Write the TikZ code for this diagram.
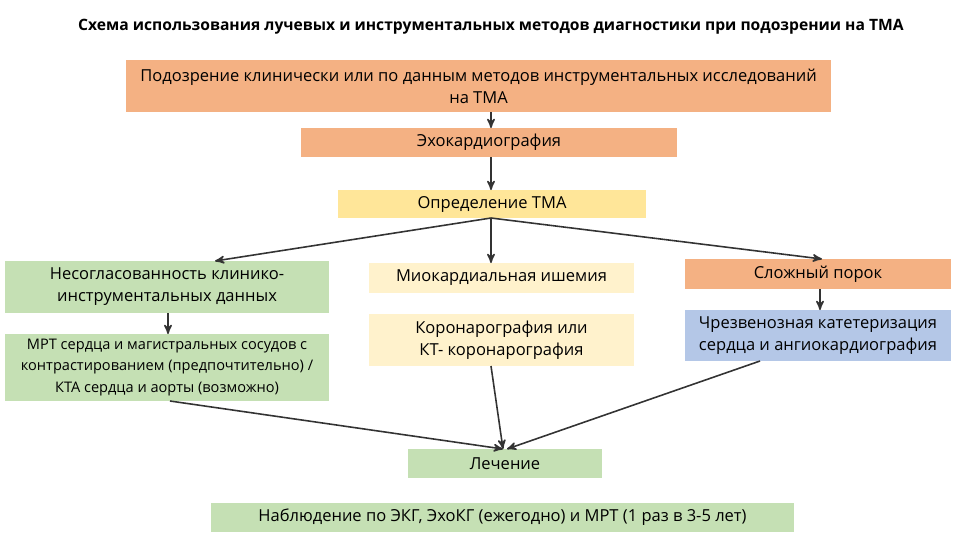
\documentclass[tikz,border=0pt]{standalone}
\usepackage{fontspec}
\setmainfont{Open Sans}
\usetikzlibrary{arrows}
\definecolor{orng}{HTML}{F4B183}
\definecolor{yell}{HTML}{FFE699}
\definecolor{lyel}{HTML}{FFF2CC}
\definecolor{grn}{HTML}{C5E0B4}
\definecolor{blu}{HTML}{B4C7E7}
\tikzset{box/.style={inner sep=0pt,align=center,font=\fontsize{9.4}{12.5}\selectfont},
  arr/.style={->,>=stealth',line width=0.9pt,draw=black!80}}

\begin{document}
\begin{tikzpicture}[x=0.02cm,y=-0.02cm]
              \useasboundingbox (0,0) rectangle (974,539);
              \node (title) at (491,27) {\fontsize{8.9}{11}\selectfont\bfseries Схема использования лучевых и инструментальных методов диагностики при подозрении на ТМА};

              \fill[orng] (126,60) rectangle (831,112);
              \node[box] (susp) at (478.5,86) {Подозрение клинически или по данным методов инструментальных исследований\\на ТМА};
              \fill[orng] (301,128) rectangle (677,157);
              \node[box] (echo) at (489,142.5) {Эхокардиография};
              \fill[yell] (338,190) rectangle (646,218);
              \node[box] (def) at (492,204) {Определение ТМА};

              \fill[grn] (5,261) rectangle (329,313);
              \node[box] (mism) at (167,287) {Несогласованность клинико-\\инструментальных данных};
              \fill[lyel] (369,263) rectangle (634,293);
              \node[box] (isch) at (501.5,278) {Миокардиальная ишемия};
              \fill[orng] (685,259) rectangle (951,289);
              \node[box] (vice) at (818,274) {Сложный порок};

              \fill[grn] (5,334) rectangle (329,401);
              \node[box,font=\fontsize{8.3}{12}\selectfont] (mri) at (167,367.5) {МРТ сердца и магистральных сосудов с\\контрастированием (предпочтительно) /\\КТА сердца и аорты (возможно)};
              \fill[lyel] (369,314) rectangle (634,366);
              \node[box] (cor) at (501.5,340) {Коронарография или\\КТ- коронарография};
              \fill[blu] (685,310) rectangle (951,361);
              \node[box] (cath) at (818,335.5) {Чрезвенозная катетеризация\\сердца и ангиокардиография};

              \fill[grn] (408,449) rectangle (602,478);
              \node[box] (treat) at (505,463.5) {Лечение};
              \fill[grn] (211,503) rectangle (794,532);
              \node[box] (follow) at (502.5,517.5) {Наблюдение по ЭКГ, ЭхоКГ (ежегодно) и МРТ (1 раз в 3-5 лет)};

              \coordinate (a1) at (491,112);
              \coordinate (a2) at (491,128);
              \coordinate (b1) at (491,157);
              \coordinate (b2) at (491,190);
              \coordinate (c0) at (491,218);
              \coordinate (cl) at (215,261);
              \coordinate (cm) at (491,263);
              \coordinate (cr) at (822,259);
              \coordinate (l1) at (168,313);
              \coordinate (l2) at (168,334);
              \coordinate (r1) at (820,289);
              \coordinate (r2) at (820,310);
              \coordinate (lb) at (170,401);
              \coordinate (mb) at (491,366);
              \coordinate (rb) at (760,361);
              \coordinate (t1) at (503,449);
              \coordinate (t2) at (507,449);

              \draw[arr] (a1) -- (a2);
              \draw[arr] (b1) -- (b2);
              \draw[arr] (c0) -- (cl);
              \draw[arr] (c0) -- (cm);
              \draw[arr] (c0) -- (cr);
              \draw[arr] (l1) -- (l2);
              \draw[arr] (r1) -- (r2);
              \draw[arr] (lb) -- (t1);
              \draw[arr] (mb) -- (t1);
              \draw[arr] (rb) -- (t2);
\end{tikzpicture}
\end{document}
